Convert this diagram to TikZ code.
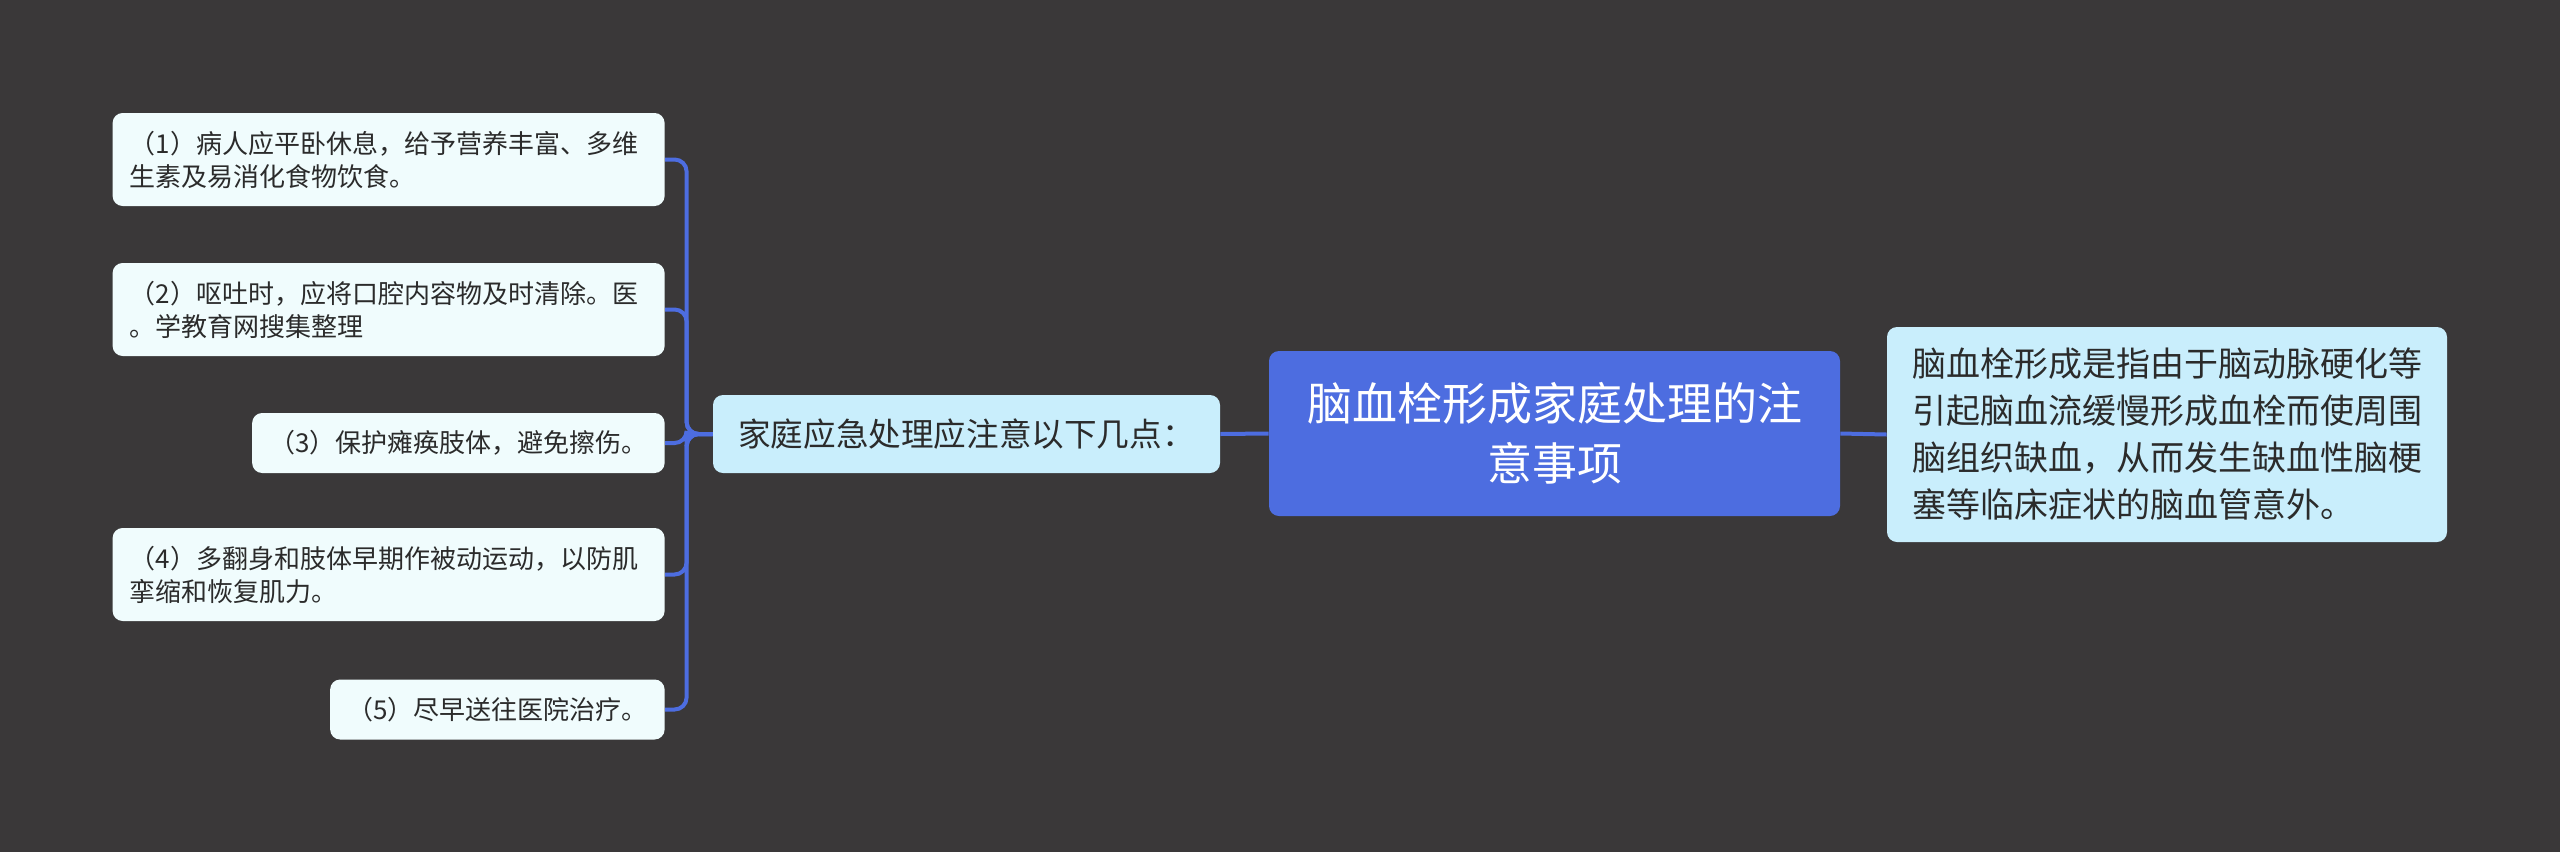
\documentclass[tikz,border=0pt]{standalone}
\usepackage{fontspec}
\setmainfont{Noto Sans CJK SC}
\usetikzlibrary{positioning}

\definecolor{bgdark}{HTML}{3A3839}
\definecolor{rootblue}{HTML}{4D6DE0}
\definecolor{subcyan}{HTML}{C9EEFC}
\definecolor{leafbg}{HTML}{F0FCFD}
\definecolor{inktext}{HTML}{2B2B2B}

\tikzset{
  leaf/.style={fill=leafbg, rounded corners=5pt, text=inktext, anchor=east,
    font=\fontsize{13pt}{16.5pt}\selectfont, align=left, inner xsep=8.5pt, minimum height=30pt},
  leaftwo/.style={leaf, text width=259pt, minimum height=46.5pt},
  subtopic/.style={fill=subcyan, rounded corners=5pt, text=inktext,
    font=\fontsize{16.3pt}{20pt}\selectfont, align=left},
  branch/.style={draw=rootblue, line width=2pt, rounded corners=6pt}
}

\begin{document}
\begin{tikzpicture}[x=0.5pt, y=-0.5pt]
\fill[bgdark] (0,0) rectangle (2560,852);

% centre
\node[fill=rootblue, rounded corners=5pt, text=white, align=center,
  font=\fontsize{22.5pt}{30pt}\selectfont, minimum width=285.5pt, minimum height=82.5pt]
  (root) at (1554.5,433.5) {脑血栓形成家庭处理的注\\意事项};

\node[subtopic, minimum width=280pt, minimum height=107.5pt, font=\fontsize{17pt}{23.5pt}\selectfont]
  (defn) at (2167,434.5) {脑血栓形成是指由于脑动脉硬化等\\引起脑血流缓慢形成血栓而使周围\\脑组织缺血，从而发生缺血性脑梗\\塞等临床症状的脑血管意外。};

\node[subtopic, align=center, minimum width=253.5pt, minimum height=39pt]
  (home) at (966.5,434) {家庭应急处理应注意以下几点：};

% leaves
\node[leaftwo] (s1) at (665,159.5) {（1）病人应平卧休息，给予营养丰富、多维\\生素及易消化食物饮食。};
\node[leaftwo] (s2) at (665,309.5) {（2）呕吐时，应将口腔内容物及时清除。医\\。学教育网搜集整理};
\node[leaf] (s3) at (665,443) {（3）保护瘫痪肢体，避免擦伤。};
\node[leaftwo] (s4) at (665,574.5) {（4）多翻身和肢体早期作被动运动，以防肌\\挛缩和恢复肌力。};
\node[leaf] (s5) at (665,709.5) {（5）尽早送往医院治疗。};

\draw[branch] (root.west) -- (home.east);
\draw[branch] (root.east) -- (defn.west);
\coordinate (trunk) at ([xshift=-13pt]home.west);
\draw[branch, rounded corners=0pt] (home.west) -- (trunk);
\foreach \s in {s1,s2,s3,s4,s5}
  \draw[branch] (home.west) -- (trunk) |- (\s.east);
\end{tikzpicture}
\end{document}
